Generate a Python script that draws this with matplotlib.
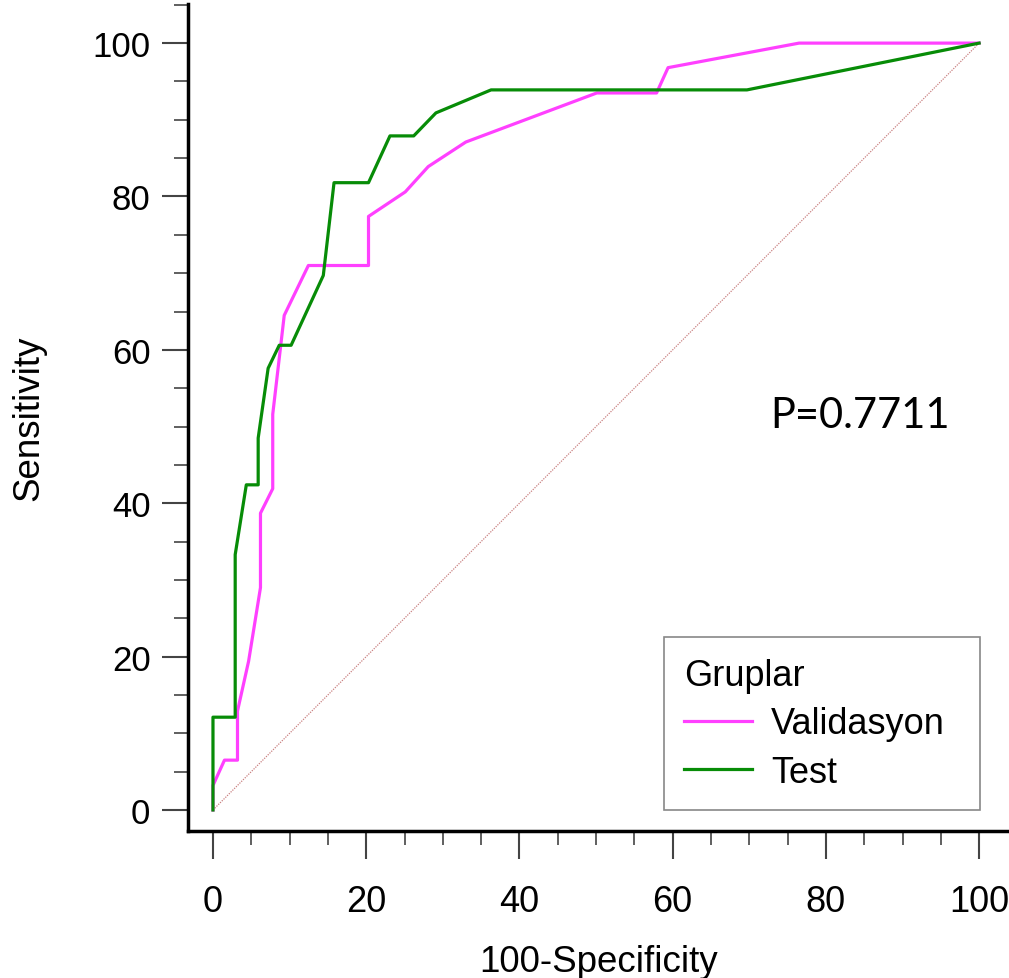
import numpy as np
import matplotlib
matplotlib.use("Agg")
import matplotlib.pyplot as plt
from matplotlib.ticker import MultipleLocator

plt.rcParams['font.family'] = ['Liberation Sans', 'DejaVu Sans']

# ROC points (x = 100-Specificity, y = Sensitivity)
val_x = [0, 0, 1.5, 3.2, 3.2, 4.65, 6.2, 6.2, 7.8, 7.8, 9.3, 12.45, 20.3, 20.3,
         25.1, 28.1, 33.0, 50.1, 57.9, 59.4, 76.5, 100]
val_y = [0, 3.2, 6.5, 6.5, 12.9, 19.4, 29.0, 38.7, 41.9, 51.6, 64.5, 71.0, 71.0, 77.4,
         80.6, 83.9, 87.1, 93.5, 93.5, 96.8, 100, 100]

test_x = [0, 0, 2.9, 2.9, 4.35, 5.9, 5.9, 7.2, 8.65, 10.2, 14.4, 15.8, 20.3, 23.1,
          26.2, 29.1, 36.3, 69.7, 100]
test_y = [0, 12.1, 12.1, 33.3, 42.4, 42.4, 48.5, 57.6, 60.6, 60.6, 69.7, 81.8, 81.8, 87.9,
          87.9, 90.9, 93.9, 93.9, 100]

ref_x = [0, 100]
ref_y = [0, 100]

labels = ['Validasyon', 'Test']
p_text = 'P=0.7711'

fig = plt.figure(figsize=(10.09, 9.79), dpi=100)
ax = fig.add_axes([188 / 1009, 1 - 832 / 979, 1 - 188 / 1009, (832 - 5) / 979])

ax.plot(ref_x, ref_y, color='#c98080', lw=0.9, ls=(0, (1, 1)))
ax.plot(val_x, val_y, color='#ff40ff', lw=2.3, label=labels[0])
ax.plot(test_x, test_y, color='#078c07', lw=2.3, label=labels[1])

ax.set_xlim(-3.26, 103.9)
ax.set_ylim(-2.74, 105.1)

for s in ['top', 'right']:
    ax.spines[s].set_visible(False)
for s in ['left', 'bottom']:
    ax.spines[s].set_linewidth(2.5)

ax.xaxis.set_major_locator(MultipleLocator(20))
ax.xaxis.set_minor_locator(MultipleLocator(5))
ax.yaxis.set_major_locator(MultipleLocator(20))
ax.yaxis.set_minor_locator(MultipleLocator(5))
ax.tick_params(which='major', width=1.5, color='#444444')
ax.tick_params(axis='y', which='major', length=19, pad=8, labelsize=25)
ax.tick_params(axis='x', which='major', length=20, pad=18, labelsize=26)
ax.tick_params(which='minor', length=10, width=1.2, color='#444444')

ax.set_xlabel('100-Specificity', fontsize=26.5, labelpad=18.5)
ax.set_ylabel('Sensitivity', fontsize=26.5, labelpad=33)

# legend box spans px 664..980 horizontally
leg = ax.legend(title='Gruplar', loc='lower left',
                bbox_to_anchor=((664 - 188) / 821, 0.0254, 316 / 821, 0.2),
                mode='expand', borderaxespad=0, fontsize=26, title_fontsize=26,
                fancybox=False, edgecolor='#888888', framealpha=1, handlelength=1.87,
                handletextpad=0.53, labelspacing=0.377, borderpad=0.56, alignment='left')
leg.get_frame().set_linewidth(1.2)

fig.text(770 / 1009, 1 - 428 / 979, p_text, fontsize=30, family=['Lato', 'DejaVu Sans'],
         va='baseline', ha='left')

fig.savefig('out.png', dpi=100)
